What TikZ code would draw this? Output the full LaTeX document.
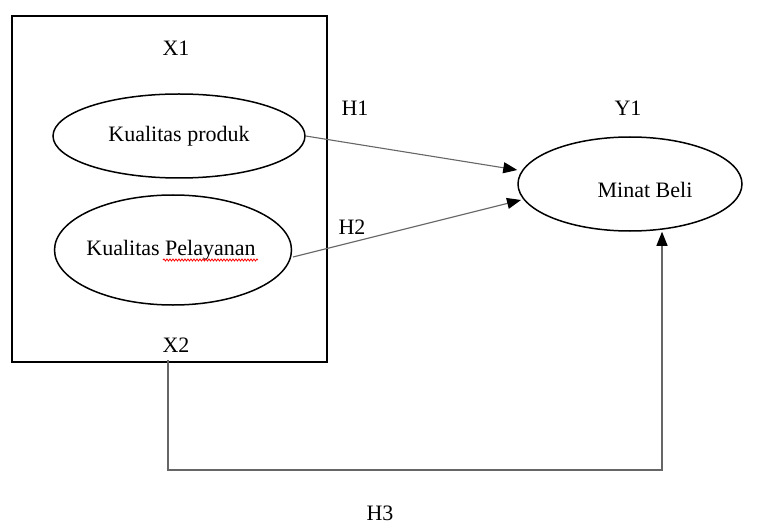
\documentclass[tikz,border=0pt]{standalone}
\usepackage{fontspec}
\setmainfont{Liberation Serif}
\usetikzlibrary{shapes.geometric,arrows.meta,decorations.pathmorphing}
\begin{document}
\begin{tikzpicture}[x=1pt,y=-1pt,
  every node/.style={font=\fontsize{22}{26}\selectfont, inner sep=0pt},
  construct/.style={draw=black, line width=1.5pt, ellipse},
  link/.style={draw=black!60, line width=1.1pt},
  arrowlink/.style={link, -{Triangle[length=14pt,width=11pt,color=black]}},
  lbl/.style={}]
\useasboundingbox (0,0) rectangle (759,529);
\node[draw=black, line width=1.6pt, minimum width=315pt, minimum height=346pt] (box) at (169.5,189) {};
\node[lbl] (x1) at (176,48) {X1};
\node[lbl] (x2) at (176,345) {X2};
\node[construct, minimum width=252pt, minimum height=84pt] (kp) at (179,136) {Kualitas produk};
\node[construct, minimum width=237pt, minimum height=110pt] (kpl) at (173,250) {};
\node (kpltext) at (171,250) {Kualitas Pelayanan};
\draw[red, line width=0.8pt, decorate, decoration={snake, amplitude=1pt, segment length=3pt}] (163,260) -- (258,260);
\node[construct, minimum width=224pt, minimum height=94pt] (mb) at (630,184) {};
\node (mbtext) at (645,190) {Minat Beli};
\node[lbl] (y1) at (628,108) {Y1};
\node[lbl] (h1) at (355,108) {H1};
\node[lbl] (h2) at (352,227) {H2};
\node[lbl] (h3) at (380,513) {H3};
\draw[arrowlink] (kp.east) -- (mb.west |- 0,170);
\draw[arrowlink] (293,257) -- (521,200);
\coordinate (c1) at (168,470);
\coordinate (c2) at (662,470);
\draw[arrowlink] (168,360) -- (c1) -- (c2) -- (mb.south -| c2);
\end{tikzpicture}
\end{document}
